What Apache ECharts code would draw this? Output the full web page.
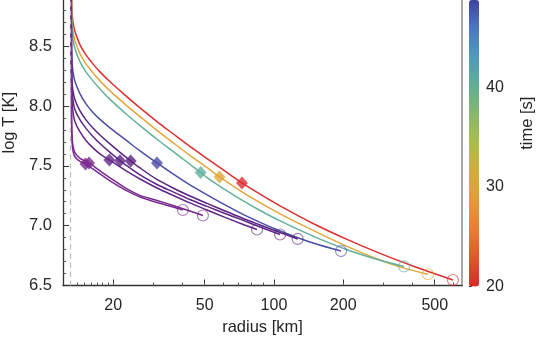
<!DOCTYPE html>
<html>
<head>
<meta charset="utf-8">
<script src="https://cdn.jsdelivr.net/npm/echarts@6/dist/echarts.min.js"></script>
<style>
  html, body { margin: 0; padding: 0; background: #fff; }
  #chart { width: 538px; height: 339px; }
</style>
</head>
<body>
<div id="chart"></div>
<script>
// radius [km], log T [K] along each cooling track
const redTrack = [[13.11,9.3],[13.24,8.804],[13.37,8.703],[13.65,8.62],[14.35,8.511],[15.23,8.427],[16.33,8.352],[17.52,8.285],[19.37,8.202],[22.97,8.076],[26.16,7.984],[31.0,7.87],[36.4,7.768],[43.1,7.662],[51.2,7.56],[61.3,7.455],[72.6,7.357],[87.0,7.263],[106.3,7.165],[147.9,7.018],[207.8,6.885],[289,6.768],[402,6.663],[600,6.546]];
const orangeTrack = [[13.11,9.3],[13.18,8.845],[13.24,8.72],[13.37,8.628],[13.65,8.544],[14.35,8.436],[15.23,8.352],[16.33,8.277],[17.52,8.21],[19.37,8.126],[22.97,8.001],[26.16,7.911],[31.0,7.797],[36.4,7.694],[43.1,7.587],[51.2,7.485],[58.0,7.407],[72.6,7.283],[87.0,7.192],[106.3,7.099],[147.9,6.961],[207.8,6.827],[289,6.713],[367.6,6.645],[467.5,6.594]];
const tealTrack = [[13.11,9.3],[13.18,8.787],[13.24,8.653],[13.37,8.561],[13.65,8.477],[14.35,8.369],[15.23,8.285],[16.33,8.21],[17.52,8.143],[19.37,8.055],[22.97,7.927],[26.16,7.836],[31.0,7.722],[36.4,7.62],[43.1,7.513],[48.0,7.445],[51.2,7.402],[61.3,7.301],[72.6,7.213],[87.0,7.127],[106.3,7.04],[147.9,6.913],[207.8,6.799],[289,6.711],[367.6,6.659]];
const blueTrack = [[13.11,9.3],[13.18,8.469],[13.24,8.369],[13.37,8.285],[13.65,8.202],[14.35,8.101],[15.23,8.018],[16.33,7.946],[17.52,7.888],[19.37,7.817],[22.97,7.708],[26.16,7.625],[31.0,7.524],[36.4,7.432],[43.1,7.34],[51.2,7.257],[61.3,7.173],[72.6,7.098],[87.0,7.027],[106.3,6.956],[147.9,6.855],[195.7,6.788]];
const purpleTrackA = [[13.11,9.3],[13.18,8.385],[13.24,8.218],[13.37,8.126],[13.65,8.051],[14.35,7.959],[15.23,7.884],[16.33,7.817],[17.52,7.758],[19.37,7.683],[21.41,7.612],[23.83,7.541],[26.16,7.482],[31.0,7.386],[36.4,7.315],[43.1,7.248],[51.2,7.186],[61.3,7.123],[72.6,7.064],[87.0,7.006],[106.3,6.943],[126.8,6.889]];
const purpleTrackB = [[13.11,9.3],[13.18,8.302],[13.24,8.151],[13.37,8.051],[13.65,7.967],[14.35,7.884],[15.23,7.813],[16.33,7.746],[17.52,7.687],[19.37,7.612],[21.41,7.543],[22.97,7.499],[26.16,7.424],[31.0,7.344],[36.4,7.282],[43.1,7.219],[51.2,7.161],[61.3,7.102],[72.6,7.048],[87.0,6.989],[106.3,6.926]];
const purpleTrackC = [[13.11,9.3],[13.18,8.218],[13.24,8.051],[13.37,7.951],[13.65,7.867],[14.35,7.783],[15.23,7.712],[16.33,7.65],[17.52,7.6],[19.25,7.549],[21.41,7.491],[22.97,7.453],[26.16,7.39],[31.0,7.315],[36.4,7.253],[43.1,7.19],[51.2,7.131],[61.3,7.069],[72.6,7.014],[84.4,6.968]];
const purpleTrackD = [[13.11,9.3],[13.18,7.967],[13.24,7.758],[13.37,7.666],[13.65,7.608],[14.35,7.562],[15.7,7.524],[17.52,7.457],[19.37,7.399],[22.97,7.307],[26.16,7.253],[31.0,7.211],[36.4,7.169],[43.1,7.123],[49.1,7.085]];
const purpleTrackE = [[13.11,9.3],[13.18,7.926],[13.24,7.717],[13.37,7.625],[13.65,7.574],[14.35,7.537],[15.16,7.516],[16.33,7.474],[17.52,7.432],[19.37,7.374],[22.97,7.29],[26.16,7.24],[31.0,7.194],[36.4,7.156],[40.2,7.131]];

// diamond markers (radius, log T)
const diamondPoints = [[72.6,7.357],[58.0,7.407],[48.0,7.445],[31.0,7.524],[23.83,7.541],[21.41,7.543],[19.25,7.549],[15.7,7.524],[15.16,7.516]];

const innerRadius = 13.05;
const xMajorTicks = [20, 50, 100, 200, 500];
const xMinorTicks = [13,14,15,16,17,18,19,20,30,40,50,60,70,80,90,100,200,300,400,500,600];
const timeTicks = [20, 30, 40];

const tracks = [redTrack, orangeTrack, tealTrack, blueTrack, purpleTrackA, purpleTrackB, purpleTrackC, purpleTrackD, purpleTrackE];
const trackColors = ["#dc2f2f", "#e2a73b", "#62b19d", "#4a4ea6", "#5a2382", "#5e2584", "#632687", "#772a8e", "#7b2b90"];
const barColors = ["#d62a27","#e3552d","#ec7c33","#e39a38","#d2ad3d","#adbc4e","#87b86c","#62ad94","#4f9bbd","#4b78c0","#3f439f"];

const chart = echarts.init(document.getElementById("chart"));
const font = "Liberation Sans";
const ink = "#262626";

const series = tracks.map((t, i) => ({
  type: "line",
  data: t,
  showSymbol: false,
  smooth: 0.3,
  lineStyle: { width: 1.5, color: trackColors[i] },
  itemStyle: { color: trackColors[i] },
  z: 2,
  silent: true
}));

series[0].markLine = {
  silent: true,
  symbol: "none",
  label: { show: false },
  lineStyle: { type: [5, 4], color: "#b8b8b8", width: 1.2 },
  data: [{ xAxis: innerRadius }]
};

series.push({
  type: "scatter",
  symbol: "diamond",
  symbolSize: [12, 13],
  z: 4,
  data: diamondPoints.map((p, i) => ({ value: p, itemStyle: { color: trackColors[i] } }))
});

series.push({
  type: "scatter",
  symbol: "circle",
  symbolSize: 11,
  z: 3,
  data: tracks.map((t, i) => ({
    value: t[t.length - 1],
    itemStyle: { color: "rgba(0,0,0,0)", borderColor: trackColors[i], borderWidth: 1.2, opacity: 0.6 }
  }))
});

chart.setOption({
  animation: false,
  textStyle: { fontFamily: font },
  grid: [
    { left: 63, top: -40, width: 399, height: 325.5, outerBoundsMode: "none", containLabel: false },
    { left: 469, top: -40, width: 10, height: 326.5, outerBoundsMode: "none", containLabel: false }
  ],
  xAxis: [
    {
      type: "log", gridIndex: 0, position: "bottom", min: 12.1, max: 657,
      axisLine: { lineStyle: { color: "#333", width: 1.3 } },
      axisTick: { inside: true, length: 6, lineStyle: { color: "#333" }, customValues: xMajorTicks },
      axisLabel: { color: ink, fontSize: 16, margin: 12, customValues: xMajorTicks },
      splitLine: { show: false },
      name: "radius [km]", nameLocation: "middle", nameGap: 33,
      nameTextStyle: { color: ink, fontSize: 16.5 }
    },
    {
      type: "log", gridIndex: 0, position: "bottom", min: 12.1, max: 657,
      axisLine: { show: false },
      axisTick: { inside: true, length: 3, lineStyle: { color: "#555" }, customValues: xMinorTicks },
      axisLabel: { show: false },
      splitLine: { show: false }
    },
    { type: "value", gridIndex: 1, show: false }
  ],
  yAxis: [
    {
      type: "value", gridIndex: 0, min: 6.5, max: 9.22, interval: 0.5,
      axisLine: { show: true, lineStyle: { color: "#333", width: 1.3 } },
      axisTick: { show: true, inside: true, length: 6, lineStyle: { color: "#333" } },
      minorTick: { show: true, splitNumber: 5, length: 3, lineStyle: { color: "#555" } },
      axisLabel: { color: ink, fontSize: 16.5, margin: 11, showMaxLabel: false, formatter: v => v.toFixed(1) },
      splitLine: { show: false },
      name: "log T [K]", nameLocation: "middle", nameGap: 41,
      nameTextStyle: { color: ink, fontSize: 16.5 }
    },
    {
      type: "value", gridIndex: 0, position: "right", min: 6.5, max: 9.22,
      axisLine: { show: true, lineStyle: { color: "#a8a8a8", width: 2 } },
      axisTick: { show: false }, axisLabel: { show: false }, splitLine: { show: false }
    },
    {
      type: "value", gridIndex: 1, position: "right", min: 20, max: 52.81, interval: 10,
      axisLine: { show: false },
      axisTick: { show: true, length: 3, lineStyle: { color: "#333" } },
      axisLabel: { color: ink, fontSize: 16, margin: 7, customValues: timeTicks },
      splitLine: { show: false },
      name: "time [s]", nameLocation: "middle", nameGap: 40, nameRotate: 90,
      nameTextStyle: { color: ink, fontSize: 16.5 }
    }
  ],
  visualMap: {
    type: "continuous",
    seriesIndex: [],
    min: 20, max: 48.8,
    left: 469, top: 0,
    itemWidth: 10, itemHeight: 286.5,
    padding: 0,
    calculable: false,
    text: null,
    inRange: { color: barColors }
  },
  series: series
});
</script>
</body>
</html>
